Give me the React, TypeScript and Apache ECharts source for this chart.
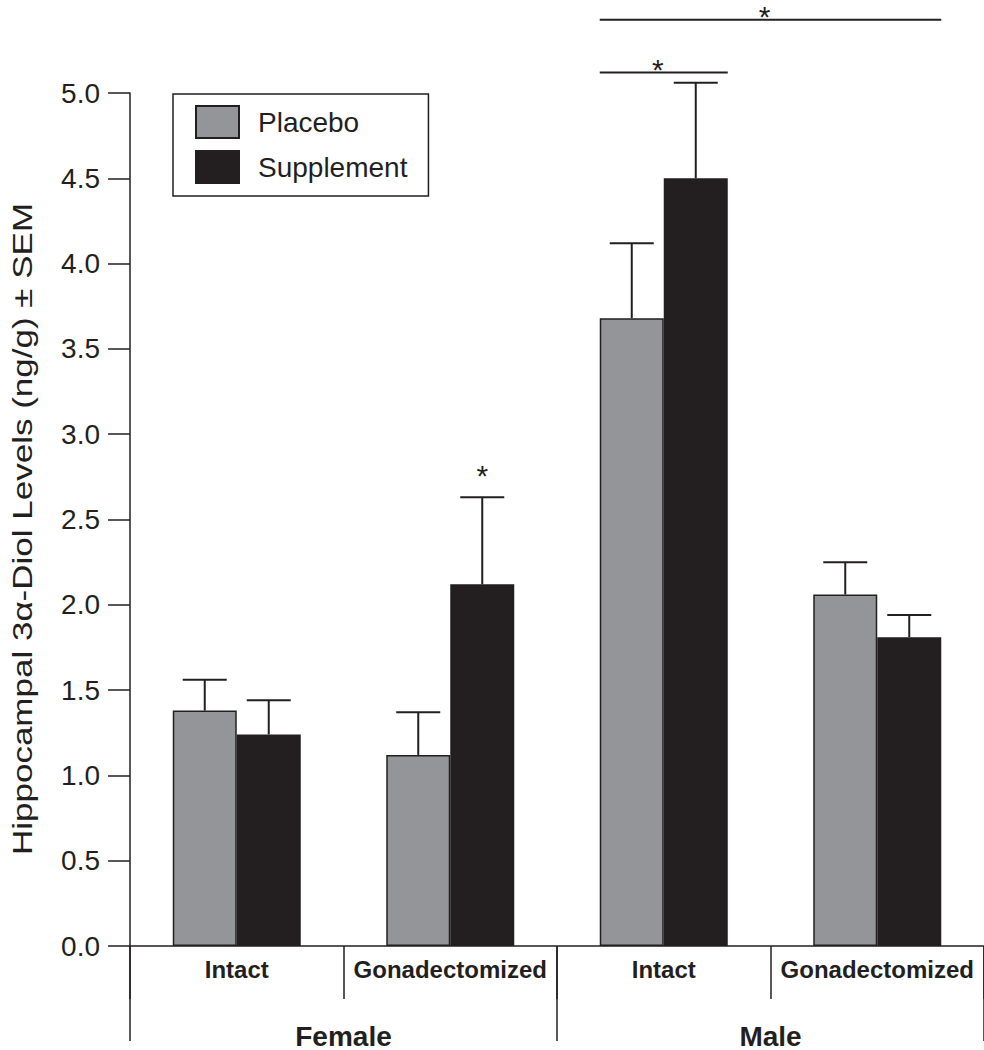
import React, { useEffect, useRef } from "react";
import * as echarts from "echarts";

const categoryIds = ["F-Intact", "F-Gonad", "M-Intact", "M-Gonad"];
const groupLabels = ["Intact", "Gonadectomized", "Intact", "Gonadectomized"];
const sexLabels = ["Female", "Male"];
const seriesNames = ["Placebo", "Supplement"];
const placebo = [1.38, 1.12, 3.68, 2.06];
const placeboSEM = [0.18, 0.25, 0.44, 0.19];
const supplement = [1.24, 2.12, 4.5, 1.81];
const supplementSEM = [0.2, 0.51, 0.56, 0.13];
const yTicks = { min: 0, max: 5, interval: 0.5 };
// significance: [fromCategory, toCategory, yValue]
const sigBrackets = [
  [2, 2, 5.12],
  [2, 3, 5.43],
];
// single stars: [category, side(-1 placebo / 1 supplement), yValue]
const sigStars = [[1, 1, 2.76]];

const INK = "#231f20";
const GRAY = "#939598";
const FONT = "'Liberation Sans', Arial, sans-serif";
const BAR_W = 64;
const CAP_W = 44;
const STAR_SIZE = 30;

export default function App() {
  const ref = useRef<HTMLDivElement>(null);
  useEffect(() => {
    document.body.style.margin = "0";
    const chart = echarts.init(ref.current!, undefined, { renderer: "svg" });
    const errData: number[][] = [];
    placebo.forEach((v, i) => errData.push([i, v, v + placeboSEM[i], -1]));
    supplement.forEach((v, i) => errData.push([i, v, v + supplementSEM[i], 1]));

    const starStyle = (x: number, y: number) => ({
      text: "*",
      x,
      y,
      fontSize: STAR_SIZE,
      lineHeight: 12,
      fontFamily: FONT,
      fill: INK,
      align: "center",
      verticalAlign: "middle",
    });

    const option: any = {
      animation: false,
      grid: { left: 130, right: 0, top: 93, bottom: 103 },
      legend: {
        data: seriesNames,
        orient: "vertical",
        left: 173,
        top: 94,
        icon: "rect",
        itemWidth: 43,
        itemHeight: 32,
        itemGap: 11,
        padding: [11, 21, 12, 22],
        borderColor: INK,
        borderWidth: 1.5,
        textStyle: { fontSize: 28, color: INK, fontFamily: FONT, padding: [0, 0, 0, 14] },
      },
      xAxis: [
        {
          type: "category",
          data: categoryIds,
          position: "bottom",
          axisLine: { show: true, lineStyle: { color: INK, width: 1.5 } },
          axisTick: { show: true, interval: 0, length: 53, lineStyle: { color: INK, width: 1.5 } },
          axisLabel: {
            interval: 0,
            hideOverlap: false,
            formatter: (_v: string, i: number) => groupLabels[i],
            fontSize: 24,
            fontWeight: "bold",
            color: INK,
            fontFamily: FONT,
            margin: 11,
          },
        },
        {
          type: "category",
          data: sexLabels,
          position: "bottom",
          axisLine: { show: false },
          axisTick: { show: true, interval: 0, length: 95, lineStyle: { color: INK, width: 1.5 } },
          axisLabel: {
            interval: 0,
            fontSize: 28,
            fontWeight: "bold",
            color: INK,
            fontFamily: FONT,
            margin: 76,
          },
        },
      ],
      yAxis: {
        type: "value",
        min: yTicks.min,
        max: yTicks.max,
        interval: yTicks.interval,
        axisLine: { show: true, lineStyle: { color: INK, width: 1.5 } },
        axisTick: { show: true, length: 22, lineStyle: { color: INK, width: 1.5 } },
        splitLine: { show: false },
        axisLabel: {
          formatter: (v: number) => v.toFixed(1),
          fontSize: 28,
          color: INK,
          fontFamily: FONT,
          margin: 30,
        },
      },
      graphic: [
        {
          type: "text",
          x: 22,
          y: 529,
          rotation: Math.PI / 2,
          scaleX: 1.25,
          style: {
            text: "Hippocampal 3α-Diol Levels (ng/g) ± SEM",
            fontSize: 28,
            fontFamily: FONT,
            fill: INK,
            align: "center",
            verticalAlign: "middle",
          },
        },
      ],
      series: [
        {
          name: seriesNames[0],
          type: "bar",
          data: placebo,
          barWidth: BAR_W,
          barGap: "0%",
          itemStyle: { color: GRAY, borderColor: INK, borderWidth: 1.5 },
        },
        {
          name: seriesNames[1],
          type: "bar",
          data: supplement,
          barWidth: BAR_W,
          barGap: "0%",
          itemStyle: { color: INK, borderColor: INK, borderWidth: 1.5 },
        },
        {
          type: "custom",
          data: errData,
          clip: false,
          z: 3,
          encode: { x: 0, y: 2 },
          renderItem: (_p: any, api: any) => {
            const cat = api.value(0);
            const p0 = api.coord([cat, api.value(1)]);
            const p1 = api.coord([cat, api.value(2)]);
            const x = p0[0] + (api.value(3) * BAR_W) / 2;
            const st = { stroke: INK, lineWidth: 2 };
            return {
              type: "group",
              children: [
                { type: "line", shape: { x1: x, y1: p0[1], x2: x, y2: p1[1] }, style: st },
                { type: "line", shape: { x1: x - CAP_W / 2, y1: p1[1], x2: x + CAP_W / 2, y2: p1[1] }, style: st },
              ],
            };
          },
        },
        {
          type: "custom",
          data: sigBrackets,
          clip: false,
          z: 3,
          encode: { x: 0, y: 2 },
          renderItem: (_p: any, api: any) => {
            const a = api.coord([api.value(0), api.value(2)]);
            const b = api.coord([api.value(1), api.value(2)]);
            const x1 = a[0] - BAR_W;
            const x2 = b[0] + BAR_W;
            return {
              type: "group",
              children: [
                { type: "line", shape: { x1, y1: a[1], x2, y2: a[1] }, style: { stroke: INK, lineWidth: 2 } },
                { type: "text", style: starStyle((x1 + x2) / 2 - 6, a[1] - 3) },
              ],
            };
          },
        },
        {
          type: "custom",
          data: sigStars,
          clip: false,
          z: 3,
          encode: { x: 0, y: 2 },
          renderItem: (_p: any, api: any) => {
            const p = api.coord([api.value(0), api.value(2)]);
            return {
              type: "text",
              style: starStyle(p[0] + (api.value(1) * BAR_W) / 2, p[1]),
            };
          },
        },
      ],
    };
    chart.setOption(option);
    return () => chart.dispose();
  }, []);
  return <div ref={ref} style={{ width: 984, height: 1050 }} />;
}
